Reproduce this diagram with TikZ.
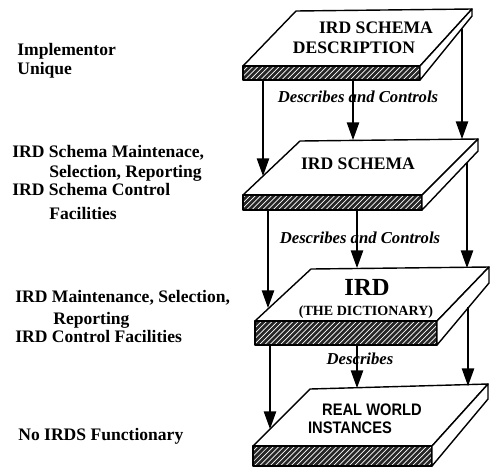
\documentclass[tikz,border=0pt]{standalone}
\usepackage{fontspec}
\setmainfont{Liberation Serif}
\newfontfamily\slabsans[FakeStretch=0.88]{Liberation Sans}
\usepackage{tikz}
\usetikzlibrary{patterns, arrows.meta}

\tikzset{
	slabline/.style={line width=0.8pt, line join=round},
	hatch/.style={slabline, preaction={fill=black!85}, pattern=north east lines, pattern color=white},
	flow/.style={line width=0.8pt, -{Triangle[length=10pt,width=7pt]}},
	sidetext/.style={anchor=base west, inner sep=0pt, font=\bfseries\fontsize{10}{12}\selectfont},
	slabtext/.style={anchor=base, inner sep=0pt, font=\bfseries\fontsize{10}{12}\selectfont},
	flowtext/.style={anchor=base, inner sep=0pt, font=\bfseries\itshape\fontsize{9.5}{11}\selectfont},
}

\begin{document}
\begin{tikzpicture}[x=0.02cm, y=-0.02cm]
	\useasboundingbox (0,0) rectangle (492,467);

	%slab corners (front left, front right, back right, back left, lower edge)
	\coordinate (fl1) at (243,66);  \coordinate (fr1) at (420,66);  \coordinate (br1) at (472,9);   \coordinate (bl1) at (296,11);
	\coordinate (lr1) at (420,80);  \coordinate (bb1) at (472,16);
	\coordinate (fl2) at (243,195); \coordinate (fr2) at (422,195); \coordinate (br2) at (478,139); \coordinate (bl2) at (300,141);
	\coordinate (lr2) at (422,210); \coordinate (bb2) at (478,151);
	\coordinate (fl3) at (255,321); \coordinate (fr3) at (437,321); \coordinate (br3) at (489,267); \coordinate (bl3) at (311,269);
	\coordinate (lr3) at (437,345); \coordinate (bb3) at (489,283);
	\coordinate (fl4) at (253,446); \coordinate (fr4) at (432,446); \coordinate (br4) at (488,384); \coordinate (bl4) at (310,389);
	\coordinate (lr4) at (432,466); \coordinate (bb4) at (488,399);

	%slabs
	\foreach \s in {1,2,3,4}{
		\filldraw[slabline, fill=white] (fl\s)--(fr\s)--(br\s)--(bl\s)--cycle;
		\draw[hatch] (fl\s) rectangle (lr\s);
		\filldraw[slabline, fill=white] (fr\s)--(br\s)--(bb\s)--(lr\s)--cycle;
	}

	%arrow ends
	\coordinate (a1l) at (263,80);  \coordinate (b1l) at (263,176);
	\coordinate (a1m) at (353,80);  \coordinate (b1m) at (353,140);
	\coordinate (a1r) at (462,29);  \coordinate (b1r) at (462,139);
	\coordinate (a2l) at (268,210); \coordinate (b2l) at (268,308);
	\coordinate (a2m) at (357,210); \coordinate (b2m) at (357,268);
	\coordinate (a2r) at (467,163); \coordinate (b2r) at (467,268);
	\coordinate (a3l) at (270,345); \coordinate (b3l) at (270,429);
	\coordinate (a3m) at (357,345); \coordinate (b3m) at (357,388);
	\coordinate (a3r) at (468,307); \coordinate (b3r) at (468,386);

	%arrows
	\foreach \s in {1,2,3}{
		\foreach \p in {l,m,r}{
			\draw[flow] (a\s\p)--(b\s\p);
		}
	}

	%slab labels
	\node[slabtext] (sdesc1) at (376,33)  {IRD SCHEMA};
	\node[slabtext] (sdesc2) at (354,53)  {DESCRIPTION};
	\node[slabtext] (schema) at (358,169) {IRD SCHEMA};
	\node[slabtext, font=\bfseries\fontsize{14}{16}\selectfont] (ird) at (367,295) {IRD};
	\node[slabtext, font=\bfseries\fontsize{8}{10}\selectfont] (dict) at (366,315) {(THE DICTIONARY)};
	\node[slabtext, font=\slabsans\bfseries\fontsize{9.5}{11}\selectfont] (real1) at (372,415) {REAL WORLD};
	\node[slabtext, font=\slabsans\bfseries\fontsize{9.5}{11}\selectfont] (real2) at (350,433) {INSTANCES};

	%arrow labels
	\node[flowtext] (dc1) at (358,102) {Describes and Controls};
	\node[flowtext] (dc2) at (360,243) {Describes and Controls};
	\node[flowtext] (desc) at (360,364) {Describes};

	%left labels
	\node[sidetext] (impl1) at (17,55)  {Implementor};
	\node[sidetext] (impl2) at (17,74)  {Unique};
	%
	\node[sidetext] (sfac1) at (12,157) {IRD Schema Maintenace,};
	\node[sidetext] (sfac2) at (49,177) {Selection, Reporting};
	\node[sidetext] (sfac3) at (12,195) {IRD Schema Control};
	\node[sidetext] (sfac4) at (49,219) {Facilities};
	%
	\node[sidetext] (ifac1) at (15,302) {IRD Maintenance, Selection,};
	\node[sidetext] (ifac2) at (53,324) {Reporting};
	\node[sidetext] (ifac3) at (15,342) {IRD Control Facilities};
	%
	\node[sidetext] (noirds) at (18,440) {No IRDS Functionary};

	%\draw[help lines, step=50] (0,0) grid (492,467);
\end{tikzpicture}
\end{document}
